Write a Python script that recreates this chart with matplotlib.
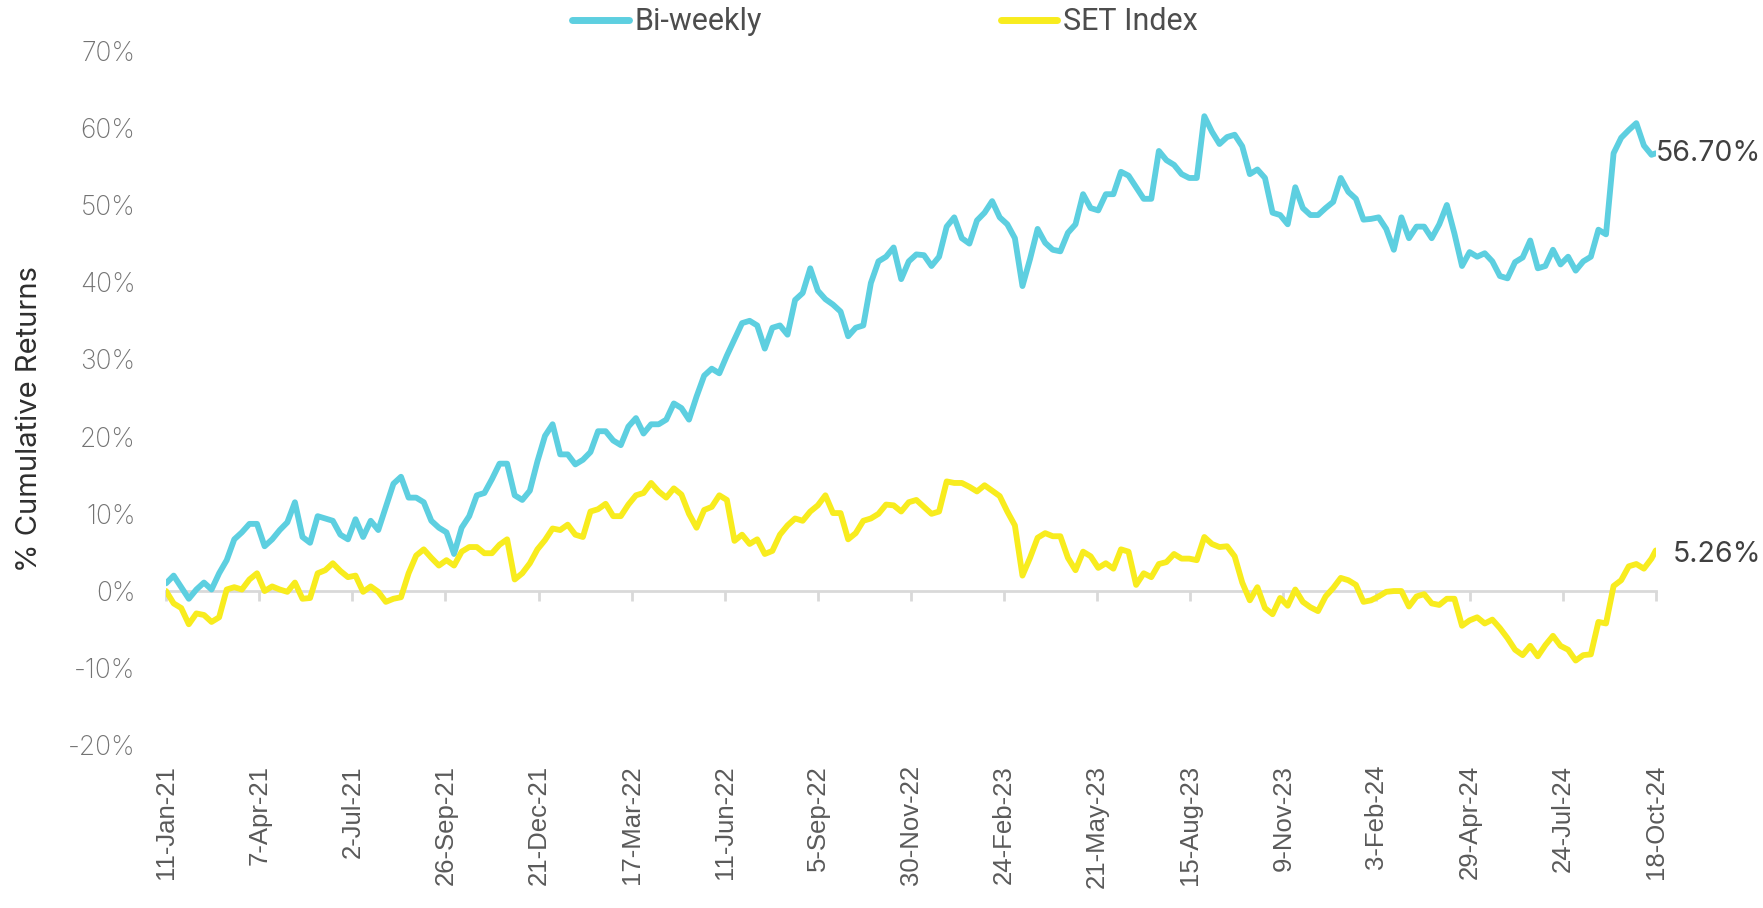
import matplotlib
matplotlib.use('Agg')
import matplotlib.pyplot as plt
import matplotlib.dates as mdates
from matplotlib.ticker import MultipleLocator, FuncFormatter
import pandas as pd

plt.rcParams['font.family'] = ['Inter', 'DejaVu Sans']

# weekly readings from 11-Jan-21, last point on 18-Oct-24
start_date = '2021-01-11'
end_date = '2024-10-18'

tick_labels = ['11-Jan-21', '7-Apr-21', '2-Jul-21', '26-Sep-21', '21-Dec-21',
               '17-Mar-22', '11-Jun-22', '5-Sep-22', '30-Nov-22', '24-Feb-23',
               '21-May-23', '15-Aug-23', '9-Nov-23', '3-Feb-24', '29-Apr-24',
               '24-Jul-24', '18-Oct-24']

bi_weekly = [
    1.0, 2.0, 0.5, -1.0, 0.2, 1.1, 0.2, 2.3, 4.0, 6.7, 7.6, 8.7, 8.7, 5.8, 6.7, 7.9,
    8.9, 11.5, 7.0, 6.25, 9.7, 9.4, 9.1, 7.3, 6.7, 9.3, 7.0, 9.1, 7.9, 10.9, 13.9, 14.8, 12.1,
    12.1, 11.5, 9.1, 8.2, 7.6, 4.8, 8.2, 9.7, 12.4, 12.7, 14.5, 16.5, 16.5, 12.4, 11.8, 13.0,
    16.8, 20.1, 21.6, 17.7, 17.7, 16.4, 17.0, 18.0, 20.7, 20.7, 19.5, 18.9, 21.3, 22.4, 20.4, 21.6, 21.6,
    22.2, 24.3, 23.7, 22.2, 25.2, 27.9, 28.8, 28.2, 30.5, 32.6, 34.7, 35.0, 34.4, 31.4, 34.1, 34.4,
    33.2, 37.7, 38.6, 41.8, 38.9, 37.8, 37.1, 36.2, 33.0, 34.1, 34.4, 39.9, 42.7, 43.3, 44.5, 40.4, 42.7,
    43.6, 43.5, 42.1, 43.3, 47.2, 48.4, 45.7, 45.0, 48.0, 49.0, 50.5, 48.4, 47.5, 45.7, 39.5, 43.0,
    46.9, 45.1, 44.2, 44.0, 46.4, 47.5, 51.4, 49.6, 49.3, 51.4, 51.4, 54.3, 53.8, 52.3, 50.8, 50.8, 57.0,
    55.8, 55.2, 54.0, 53.5, 53.5, 61.5, 59.5, 57.9, 58.8, 59.1, 57.6, 54.0, 54.6, 53.5, 49.0, 48.7,
    47.5, 52.3, 49.6, 48.7, 48.7, 49.6, 50.4, 53.5, 51.7, 50.8, 48.1, 48.2, 48.4, 46.9, 44.2, 48.4, 45.7,
    47.2, 47.2, 45.7, 47.5, 50.0, 46.3, 42.1, 43.9, 43.3, 43.75, 42.7, 40.8, 40.5, 42.6, 43.2, 45.4,
    41.8, 42.1, 44.2, 42.3, 43.3, 41.5, 42.7, 43.3, 46.8, 46.2, 56.7, 58.7, 59.7, 60.6, 57.7, 56.5,
    56.7]

set_index = [
    0.0, -1.6, -2.2, -4.3, -2.9, -3.1, -4.0, -3.4, 0.2, 0.5, 0.2, 1.5, 2.3, 0.0, 0.6, 0.2,
    -0.1, 1.1, -1.0, -0.9, 2.3, 2.7, 3.6, 2.6, 1.8, 2.0, -0.1, 0.6, -0.1, -1.4, -1.0, -0.8, 2.3,
    4.6, 5.4, 4.3, 3.3, 4.0, 3.3, 5.1, 5.7, 5.7, 4.9, 4.9, 6.0, 6.7, 1.5, 2.3, 3.6,
    5.4, 6.6, 8.1, 7.9, 8.6, 7.3, 7.0, 10.3, 10.6, 11.3, 9.7, 9.7, 11.2, 12.4, 12.7, 14.0, 12.9,
    12.1, 13.3, 12.5, 10.0, 8.2, 10.5, 10.9, 12.4, 11.8, 6.5, 7.3, 6.1, 6.7, 4.8, 5.2, 7.3,
    8.5, 9.4, 9.1, 10.3, 11.1, 12.4, 10.1, 10.1, 6.7, 7.5, 9.1, 9.4, 10.0, 11.2, 11.1, 10.3, 11.5,
    11.8, 10.9, 10.0, 10.3, 14.2, 14.0, 14.0, 13.5, 12.9, 13.7, 13.0, 12.3, 10.3, 8.5, 2.0, 4.3,
    6.9, 7.5, 7.1, 7.1, 4.3, 2.7, 5.1, 4.5, 3.0, 3.6, 2.9, 5.4, 5.1, 0.8, 2.3, 1.8, 3.5,
    3.75, 4.8, 4.2, 4.2, 4.0, 7.0, 6.1, 5.7, 5.8, 4.5, 1.1, -1.2, 0.5, -2.2, -3.0, -0.9,
    -1.9, 0.2, -1.4, -2.1, -2.6, -0.7, 0.4, 1.7, 1.4, 0.8, -1.4, -1.2, -0.7, -0.1, 0.0, 0.0, -2.0,
    -0.7, -0.4, -1.6, -1.8, -1.0, -1.0, -4.5, -3.8, -3.4, -4.2, -3.7, -4.8, -6.1, -7.6, -8.3, -7.1,
    -8.45, -7.0, -5.8, -7.1, -7.6, -9.0, -8.3, -8.2, -4.0, -4.2, 0.65, 1.4, 3.2, 3.5, 2.9, 4.2,
    5.26]

dates = list(pd.date_range(start_date, periods=len(bi_weekly) - 1, freq='7D')) + [pd.Timestamp(end_date)]
tick_dates = pd.to_datetime(tick_labels, format='%d-%b-%y')

BLUE = '#5dcfe0'
YELLOW = '#f8ec1e'
AXIS_GREY = '#d9d9d9'

fig = plt.figure(figsize=(17.63, 9.08), dpi=100)
ax = fig.add_axes([0.0942, 0.179, 0.845, 0.7653])

ax.plot(dates, bi_weekly, color=BLUE, lw=4.2, label='Bi-weekly',
        solid_joinstyle='round', solid_capstyle='round')
ax.plot(dates, set_index, color=YELLOW, lw=4.2, label='SET Index',
        solid_joinstyle='round', solid_capstyle='round')

ax.set_ylim(-20, 70)
ax.set_xlim(dates[0], dates[-1])
ax.yaxis.set_major_locator(MultipleLocator(10))
ax.yaxis.set_major_formatter(FuncFormatter(lambda v, p: f'{v:.0f}%'))

for s in ['top', 'right', 'left']:
    ax.spines[s].set_visible(False)
ax.spines['bottom'].set_position(('data', 0))
ax.spines['bottom'].set_color(AXIS_GREY)
ax.spines['bottom'].set_linewidth(2)
ax.spines['bottom'].set_zorder(0)

ax.set_xticks(mdates.date2num(tick_dates))
ax.tick_params(axis='x', length=7, width=2, color=AXIS_GREY, labelbottom=False)
ax.tick_params(axis='y', length=0, pad=22, labelsize=19, labelcolor='#737373')
for t in ax.get_yticklabels():
    t.set_fontweight('light')

# date labels sit at the bottom of the plot area
sec = ax.secondary_xaxis('bottom')
sec.set_xticks(mdates.date2num(tick_dates))
sec.set_xticklabels(tick_labels, family=['Liberation Sans', 'DejaVu Sans'])
sec.spines['bottom'].set_visible(False)
sec.tick_params(length=0, pad=14, labelsize=18.5, labelcolor='#5a5a5a', labelrotation=90)

fig.text(0.017, 0.5386, '% Cumulative Returns', rotation=90, ha='center', va='center',
         fontsize=21, color='#2e2e2e')

leg = fig.legend(loc='center', bbox_to_anchor=(0.502, 0.976), ncol=2, frameon=False,
                 handlelength=1.85, handletextpad=0.2, columnspacing=7.8,
                 prop={'family': ['Liberation Sans Narrow', 'Roboto', 'DejaVu Sans'], 'size': 22})
for t in leg.get_texts():
    t.set_color('#4d4d4d')
for h in leg.legend_handles:
    h.set_linewidth(5)

ax.annotate(f'{bi_weekly[-1]:.2f}%', xy=(dates[-1], bi_weekly[-1]), xytext=(0, 0),
            textcoords='offset points', ha='left', va='center', fontsize=20.5,
            color='#404040', annotation_clip=False)
ax.annotate(f'{set_index[-1]:.2f}%', xy=(dates[-1], set_index[-1]), xytext=(12, -3),
            textcoords='offset points', ha='left', va='center', fontsize=20.5,
            color='#404040', annotation_clip=False)

fig.savefig('out.png', dpi=100)
